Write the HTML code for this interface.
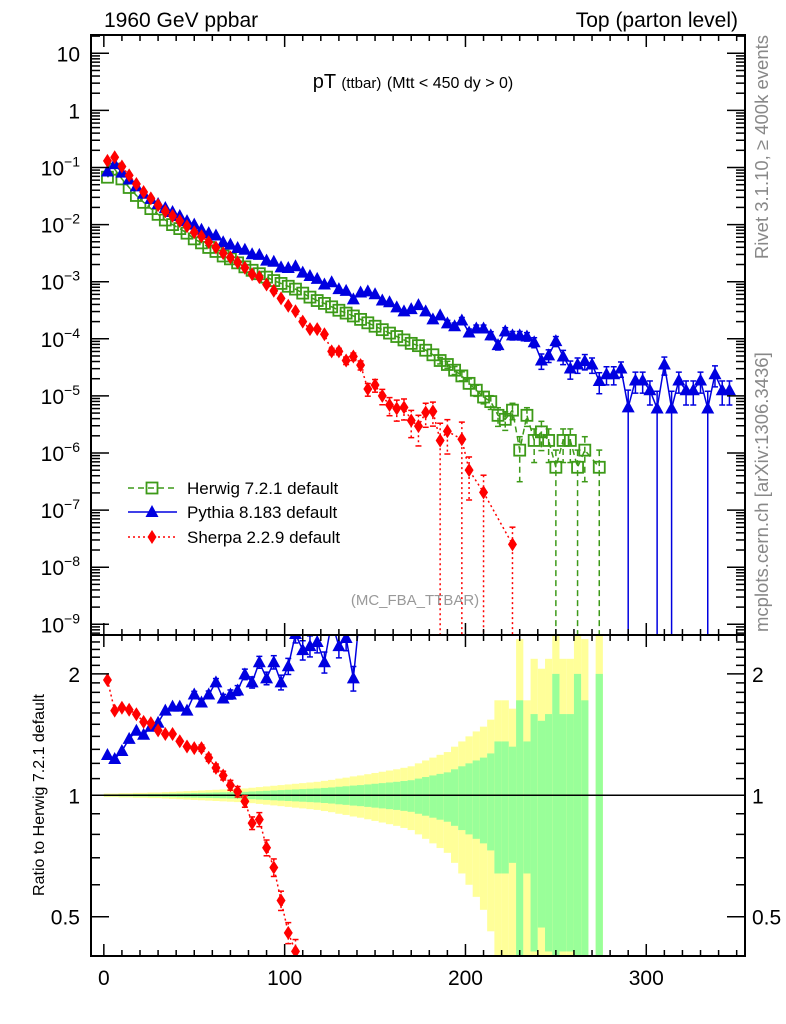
<!DOCTYPE html>
<html><head><meta charset="utf-8"><style>
html,body{margin:0;padding:0;background:#fff;width:786px;height:1024px;overflow:hidden}
svg{display:block;font-family:"Liberation Sans",Arial,sans-serif}
</style></head><body>
<svg id="chart" width="786" height="1024" viewBox="0 0 786 1024" xmlns="http://www.w3.org/2000/svg">
<defs>
<clipPath id="clipMain"><rect x="91" y="35" width="654" height="600"/></clipPath>
<clipPath id="clipRatio"><rect x="91" y="635" width="654" height="321"/></clipPath>
</defs>
<text x="104" y="27" font-size="21">1960 GeV ppbar</text>
<text x="738" y="27" font-size="21" text-anchor="end">Top (parton level)</text>
<text x="413" y="88" font-size="20" text-anchor="middle">pT <tspan font-size="15">(ttbar)</tspan> <tspan font-size="16">(Mtt &lt; 450 dy &gt; 0)</tspan></text>
<text transform="translate(768,35) rotate(-90)" font-size="18.5" fill="#888" text-anchor="end">Rivet 3.1.10, ≥ 400k events</text>
<text transform="translate(768,632) rotate(-90)" font-size="18.5" fill="#888" text-anchor="start">mcplots.cern.ch [arXiv:1306.3436]</text>
<text x="415" y="605" font-size="15" fill="#999" text-anchor="middle">(MC_FBA_TTBAR)</text>
<text transform="translate(44,795) rotate(-90)" font-size="16" text-anchor="middle">Ratio to Herwig 7.2.1 default</text>
<g id="bands" clip-path="url(#clipRatio)"></g>
<g id="mainMarks" clip-path="url(#clipMain)"></g>
<g id="ratioMarks" clip-path="url(#clipRatio)"></g>
<g id="axes"></g>
<g id="legend"></g>
</svg>
<script>
const binCenters = [];
for (let i = 0; i < 87; i++) binCenters.push(2 + 4 * i);

const herwigLog10 = [
-1.17,-1.03,-1.2,-1.35,-1.49,-1.61,-1.72,-1.82,-1.92,-2.0,
-2.07,-2.15,-2.25,-2.32,-2.4,-2.47,-2.55,-2.6,-2.67,-2.74,
-2.8,-2.86,-2.92,-2.98,-3.03,-3.08,-3.13,-3.2,-3.27,-3.33,
-3.38,-3.44,-3.5,-3.55,-3.6,-3.66,-3.72,-3.78,-3.84,-3.9,
-3.96,-4.02,-4.08,-4.12,-4.2,-4.28,-4.38,-4.45,-4.55,-4.65,
-4.78,-4.9,-5.02,-5.1,-5.34,-5.41,-5.25,-5.95,-5.34,-5.78,
-5.63,-5.78,-6.25,-5.78,-5.78,-6.25,-5.95,null,-6.25];
const herwigErr = [
0.005,0.005,0.006,0.006,0.007,0.007,0.008,0.008,0.009,0.01,
0.011,0.012,0.013,0.014,0.015,0.016,0.017,0.018,0.019,0.02,
0.022,0.024,0.026,0.028,0.03,0.032,0.034,0.036,0.038,0.04,
0.043,0.046,0.05,0.053,0.057,0.06,0.064,0.068,0.072,0.076,
0.08,0.085,0.09,0.1,0.11,0.12,0.13,0.14,0.16,0.18,
0.2,0.22,0.24,0.27,0.36,0.36,0.32,0.72,0.36,0.59,
0.53,0.59,1.0,0.59,0.59,1.0,0.72,null,1.0];
const pythiaLog10 = [
-1.07,-0.94,-1.09,-1.21,-1.33,-1.46,-1.55,-1.64,-1.71,-1.78,
-1.85,-1.94,-2.0,-2.09,-2.15,-2.19,-2.31,-2.35,-2.41,-2.44,
-2.52,-2.53,-2.63,-2.65,-2.75,-2.76,-2.73,-2.84,-2.9,-2.95,
-3.05,-3.01,-3.13,-3.16,-3.31,
-3.19,-3.17,-3.22,-3.33,-3.36,-3.45,-3.52,-3.48,-3.41,-3.52,
-3.66,-3.59,-3.73,-3.78,-3.68,-3.89,-3.82,-3.82,-3.94,-4.11,
-3.87,-3.94,-3.94,-3.96,-4.06,-4.38,-4.29,-4.04,-4.31,-4.52,
-4.45,-4.39,-4.45,-4.74,-4.62,-4.62,-4.52,-5.2,-4.73,-4.73,
-4.9,-5.22,-4.45,-5.22,-4.73,-4.9,-4.9,-4.73,-5.22,-4.62,
-4.9,-4.9];
const pythiaErr = [
0.006,0.006,0.007,0.008,0.009,0.01,0.011,0.012,0.013,0.014,
0.015,0.016,0.018,0.019,0.02,0.022,0.024,0.026,0.028,0.03,
0.032,0.034,0.036,0.038,0.042,0.046,0.05,0.055,0.06,0.06,
0.06,0.065,0.065,0.07,0.07,0.07,0.07,0.08,0.08,0.09,
0.1,0.1,0.1,0.1,0.11,0.12,0.12,0.13,0.14,0.13,
0.15,0.15,0.15,0.16,0.18,0.16,0.17,0.17,0.17,0.2,
0.3,0.25,0.2,0.28,0.35,0.3,0.3,0.3,0.4,0.35,
0.35,0.3,1.0,0.4,0.4,0.45,1.0,0.35,1.0,0.4,
0.45,0.45,0.4,1.0,0.4,0.45,0.45];
const sherpaLog10 = [
-0.884,-0.82,-0.983,-1.138,-1.289,-1.428,-1.541,-1.659,-1.768,-1.848,
-1.936,-2.029,-2.133,-2.203,-2.307,-2.402,-2.501,-2.575,-2.661,-2.755,
-2.869,-2.92,-3.05,-3.159,-3.291,-3.421,-3.517,
-3.7,-3.83,-3.83,-3.92,-4.22,-4.22,-4.38,-4.31,-4.46,-4.88,
-4.81,-5.0,-5.16,-5.22,-5.2,-5.43,-5.53,-5.29,-5.27,-5.78,
-5.62,null,-5.76,-6.3,null,-6.69,null,null,null,-7.6];
const sherpaErr = [
0.005,0.005,0.006,0.006,0.007,0.008,0.009,0.01,0.011,0.012,
0.013,0.014,0.016,0.018,0.02,0.022,0.025,0.028,0.03,0.033,
0.036,0.04,0.045,0.05,0.055,0.06,0.07,0.08,0.09,0.1,
0.11,0.13,0.13,0.15,0.15,0.18,0.25,0.25,0.3,0.35,
0.4,0.4,0.5,0.55,0.45,0.45,1.0,0.6,null,1.0,
0.7,null,1.0,null,null,null,1.0];

const mainYTicks = [1,0,-1,-2,-3,-4,-5,-6,-7,-8,-9];
const ratioTicks = [2,1,0.5];
const xTicks = [0,100,200,300];

const NS = 'http://www.w3.org/2000/svg';
const X0 = 91, X1 = 745, XMIN = -7.1, XMAX = 354.6;
const MT = 35, MB = 635, RT = 635, RB = 956;
function clamp(v, a, b){ return Math.max(a, Math.min(b, v)); }
function sx(v){ return X0 + (v - XMIN) / (XMAX - XMIN) * (X1 - X0); }
function syLog(l){ return 53.3 + (1 - l) * 57.1; }
function syMain(v){ return v <= 0 ? MB + 5 : clamp(syLog(Math.log10(v)), 0, MB + 5); }
function syRatio(r){ return r <= 0 ? RB + 5 : clamp(795.3 - Math.log2(r) * 121.4, RT - 150, 1020); }
function mk(tag, attrs, parent){
  const e = document.createElementNS(NS, tag);
  for (const k in attrs) e.setAttribute(k, attrs[k]);
  parent.appendChild(e);
  return e;
}
const mainG = document.getElementById('mainMarks');
const ratioG = document.getElementById('ratioMarks');
const bandG = document.getElementById('bands');
const axesG = document.getElementById('axes');
const legG = document.getElementById('legend');

function marker(type, x, y, col, parent, name){
  let e;
  if (type === 'square') e = mk('rect', {x:x-5.5, y:y-5.5, width:11, height:11, fill:'none', stroke:col, 'stroke-width':1.8}, parent);
  else if (type === 'tri') e = mk('polygon', {points:`${x},${y-7} ${x-6.5},${y+5} ${x+6.5},${y+5}`, fill:col}, parent);
  else e = mk('polygon', {points:`${x},${y-7} ${x-4.5},${y} ${x},${y+7} ${x+4.5},${y}`, fill:col}, parent);
  
  
  return e;
}

const series = [
  {key:'herwig', vals:herwigLog10, errs:herwigErr, col:'#3d9a18', type:'square', dash:'6,4', ratio:false},
  {key:'pythia', vals:pythiaLog10, errs:pythiaErr, col:'#0000e0', type:'tri', dash:'', ratio:true},
  {key:'sherpa', vals:sherpaLog10, errs:sherpaErr, col:'#ff0000', type:'diamond', dash:'2,3', ratio:true}
];

herwigErr.forEach((e, i) => {
  if (e === null || herwigLog10[i] === null) return;
  const xa = sx(binCenters[i] - 2), xb = sx(binCenters[i] + 2);
  const yt2 = syRatio(1 + 2*e), yb2 = Math.min(syRatio(Math.max(1 - 2*e, 0.01)), RB);
  const y1 = mk('rect', {x:xa, y:yt2, width:xb-xa, height:yb2 - yt2, fill:'#ffff99'}, bandG);
  
  
  const yt1 = syRatio(1 + e), yb1 = Math.min(syRatio(Math.max(1 - e, 0.01)), RB);
  const g1 = mk('rect', {x:xa, y:yt1, width:xb-xa, height:yb1 - yt1, fill:'#99ff99'}, bandG);
  
  
});
const one = mk('line', {x1:X0, x2:X1, y1:syRatio(1), y2:syRatio(1), stroke:'#000', 'stroke-width':1.5}, ratioG);



function drawSeries(s, g, ratioMode){
  const pts = [];
  const top = ratioMode ? RT : MT, bot = ratioMode ? RB : MB;
  s.vals.forEach((l, i) => {
    if (l === null) return;
    let v = Math.pow(10, l), e = s.errs[i];
    let y, ylo, yhi, lo, hi;
    if (ratioMode){
      const h = herwigLog10[i];
      if (h === null || h === undefined) return;
      const r = v / Math.pow(10, h);
      y = syRatio(r); lo = r * (1 - e); hi = r * (1 + e);
      ylo = syRatio(lo); yhi = syRatio(hi);
    } else {
      y = syMain(v); lo = v * (1 - e); hi = v * (1 + e);
      ylo = syMain(lo); yhi = syMain(hi);
    }
    const x = sx(binCenters[i]);
    pts.push({x, y, ylo, yhi, lo, inside: y > top - 8 && y < bot + 8});
  });
  const path = mk('polyline', {points: pts.map(p => p.x + ',' + p.y).join(' '), fill:'none', stroke:s.col, 'stroke-width':1.5, 'stroke-dasharray':s.dash}, g);
  
  
  pts.forEach(p => {
    if (!p.inside) return;
    if (Math.abs(p.ylo - p.yhi) > 6){
      const eb = mk('line', {x1:p.x, x2:p.x, y1:p.yhi, y2:p.ylo, stroke:s.col, 'stroke-width':1.5, 'stroke-dasharray':s.dash}, g);
      
      
      const c1 = mk('line', {x1:p.x-3, x2:p.x+3, y1:p.yhi, y2:p.yhi, stroke:s.col, 'stroke-width':1.5}, g);
      
      
      if (p.lo > 0){
        const c2 = mk('line', {x1:p.x-3, x2:p.x+3, y1:p.ylo, y2:p.ylo, stroke:s.col, 'stroke-width':1.5}, g);
        
        
      }
    }
    marker(s.type, p.x, p.y, s.col, g, s.key + '-point');
  });
}
series.forEach(s => drawSeries(s, mainG, false));
series.filter(s => s.ratio).forEach(s => drawSeries(s, ratioG, true));

[[MT, MB], [RT, RB]].forEach(([t, b], k) => {
  const fr = mk('rect', {x:X0, y:t, width:X1-X0, height:b-t, fill:'none', stroke:'#000', 'stroke-width':2}, axesG);
  
  
});
function tick(x1, y1, x2, y2, name){
  const t = mk('line', {x1, y1, x2, y2, stroke:'#000', 'stroke-width':1.5}, axesG);
  
  
}
for (let v = 0; v <= 350; v += 10){
  const x = sx(v), L = v % 100 === 0 ? 12 : 6;
  [[MT, 1], [MB, -1], [RT, 1], [RB, -1]].forEach(([y, d]) => tick(x, y, x, y + d * L, 'x-tick'));
}
xTicks.forEach(v => {
  const t = mk('text', {x:sx(v), y:985, 'font-size':21, 'text-anchor':'middle'}, axesG);
  t.textContent = v;
  
  
});
for (let d = -10; d <= 1; d++){
  for (let m = 1; m <= 9; m++){
    const l = d + Math.log10(m);
    if (l < -9.19 || l > 1.32) continue;
    const y = syLog(l), L = m === 1 ? 18 : 9;
    tick(X0, y, X0 + L, y, 'y-tick');
    tick(X1, y, X1 - L, y, 'y-tick');
  }
}
mainYTicks.forEach(p => {
  const t = mk('text', {x:80, y:syLog(p) + 8, 'font-size':21, 'text-anchor':'end'}, axesG);
  if (p === 1) t.textContent = '10';
  else if (p === 0) t.textContent = '1';
  else {
    t.textContent = '10';
    const sp = mk('tspan', {dy:-9, 'font-size':14}, t);
    sp.textContent = '\u2212' + (-p);
  }
  
  
});
for (let r = 0.4; r <= 2.51; r += 0.1){
  const rr = Math.round(r * 10) / 10;
  const y = syRatio(rr);
  const L = (rr === 0.5 || rr === 1 || rr === 2) ? 18 : 9;
  tick(X0, y, X0 + L, y, 'ratio-tick');
  tick(X1, y, X1 - L, y, 'ratio-tick');
}
ratioTicks.forEach(r => {
  const t1 = mk('text', {x:80, y:syRatio(r) + 8, 'font-size':21, 'text-anchor':'end'}, axesG);
  t1.textContent = r;
  
  
  const t2 = mk('text', {x:752, y:syRatio(r) + 8, 'font-size':21, 'text-anchor':'start'}, axesG);
  t2.textContent = r;
  
  
});
const legendLabels = ['Herwig 7.2.1 default', 'Pythia 8.183 default', 'Sherpa 2.2.9 default'];
const legendY = [488, 512, 537];
series.forEach((s, i) => {
  const y = legendY[i];
  const ln = mk('line', {x1:128, x2:177, y1:y, y2:y, stroke:s.col, 'stroke-width':1.5, 'stroke-dasharray':s.dash}, legG);
  
  
  marker(s.type, 152, y, s.col, legG, 'legend-marker-' + s.key);
  const t = mk('text', {x:187, y:y + 6, 'font-size':17}, legG);
  t.textContent = legendLabels[i];
  
  
});
</script>
</body></html>
